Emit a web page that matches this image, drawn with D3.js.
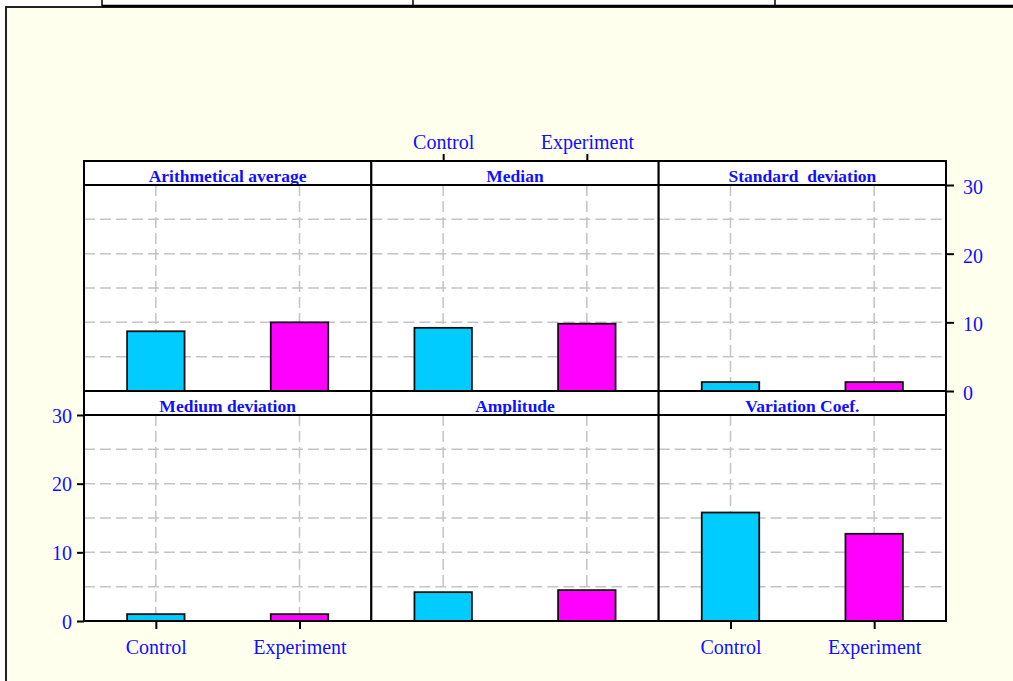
<!DOCTYPE html>
<html>
<head>
<meta charset="utf-8">
<script src="https://cdn.jsdelivr.net/npm/d3@7"></script>
<style>
  body { margin: 0; background: #fff; }
  svg { display: block; }
</style>
</head>
<body>
<div id="chart"></div>
<script>
// statistics shown, one per panel (top row first)
var statNames = ["Arithmetical average", "Median", "Standard  deviation",
                 "Medium deviation", "Amplitude", "Variation Coef."];
var groups = ["Control", "Experiment"];
var controlValues = [8.7, 9.2, 1.3, 1.0, 4.2, 15.8];
var experimentValues = [10.0, 9.8, 1.3, 1.0, 4.5, 12.7];
var yTicks = [0, 10, 20, 30];
var gridTicks = [5, 10, 15, 20, 25];

var W = 1013, H = 681;
var blue = "#1010ff";
var colors = {"Control": "#00ccff", "Experiment": "#ff00ff"};

var svg = d3.select("#chart").append("svg")
  .attr("width", W)
  .attr("height", H);

// frame bits at the top, from the device above
svg.append("rect")
  .attr("x", 6).attr("y", 7)
  .attr("width", W).attr("height", H)
  .attr("fill", "#ffffee")
  .attr("stroke", "#222")
  .attr("stroke-width", 2);
svg.append("line")
  .attr("x1", 102).attr("x2", W).attr("y1", 6).attr("y2", 6)
  .attr("stroke", "#000").attr("stroke-width", 2.5);
[102, 413, 775].forEach(function(x) {
  svg.append("line")
    .attr("x1", x).attr("x2", x).attr("y1", 0).attr("y2", 6)
    .attr("stroke", "#000").attr("stroke-width", 1.5);
});

var margin = {left: 84, right: 67, top: 161, bottom: 60},
    stripH = 24,
    nCol = 3, nRow = 2,
    colW = (W - margin.left - margin.right) / nCol,
    rowH = (H - margin.top - margin.bottom) / nRow,
    panelH = rowH - stripH;

var x = d3.scalePoint()
  .domain(groups)
  .range([0, colW])
  .padding(0.5);

var y = d3.scaleLinear()
  .domain([0, 30])
  .range([panelH, 0]);

var barW = x.step() * 0.4;

var data = statNames.map(function(name, i) {
  return {
    name: name,
    values: [
      {group: "Control", value: controlValues[i]},
      {group: "Experiment", value: experimentValues[i]}
    ]
  };
});

var panels = svg.selectAll("g.panel")
  .data(data)
  .enter().append("g")
  .attr("class", "panel")
  .attr("transform", function(d, i) {
    var c = i % nCol, r = Math.floor(i / nCol);
    return "translate(" + (margin.left + c * colW) + "," + (margin.top + r * rowH) + ")";
  });

panels.each(function(d, i) {
  var g = d3.select(this);
  var c = i % nCol, r = Math.floor(i / nCol);

  // strip
  g.append("rect")
    .attr("width", colW).attr("height", stripH)
    .attr("fill", "#fff");
  g.append("text")
    .attr("x", colW / 2)
    .attr("y", stripH - 3)
    .attr("text-anchor", "middle")
    .attr("font-family", "'Liberation Serif', 'Times New Roman', serif")
    .attr("font-weight", "bold")
    .attr("font-size", 17.5)
    .style("white-space", "pre")
    .attr("fill", blue)
    .text(d.name);

  var p = g.append("g").attr("transform", "translate(0," + stripH + ")");

  p.append("rect")
    .attr("width", colW).attr("height", panelH)
    .attr("fill", "#fff");

  // dashed grid
  p.selectAll("line.hgrid")
    .data(gridTicks)
    .enter().append("line")
    .attr("x1", 0).attr("x2", colW)
    .attr("y1", function(v) { return y(v); })
    .attr("y2", function(v) { return y(v); })
    .attr("stroke", "#c4c4c4")
    .attr("stroke-width", 1.5)
    .attr("stroke-dasharray", "11,5");
  p.selectAll("line.vgrid")
    .data(groups)
    .enter().append("line")
    .attr("x1", function(k) { return x(k); })
    .attr("x2", function(k) { return x(k); })
    .attr("y1", 0).attr("y2", panelH)
    .attr("stroke", "#c4c4c4")
    .attr("stroke-width", 1.5)
    .attr("stroke-dasharray", "11,5");

  // bars
  p.selectAll("rect.bar")
    .data(d.values)
    .enter().append("rect")
    .attr("class", "bar")
    .attr("x", function(v) { return x(v.group) - barW / 2; })
    .attr("y", function(v) { return y(v.value); })
    .attr("width", barW)
    .attr("height", function(v) { return panelH - y(v.value); })
    .attr("fill", function(v) { return colors[v.group]; })
    .attr("stroke", "#111")
    .attr("stroke-width", 1.8);

  // borders
  g.append("rect")
    .attr("width", colW).attr("height", rowH)
    .attr("fill", "none")
    .attr("stroke", "#000")
    .attr("stroke-width", 2);
  g.append("line")
    .attr("x1", 0).attr("x2", colW)
    .attr("y1", stripH).attr("y2", stripH)
    .attr("stroke", "#000")
    .attr("stroke-width", 2);

  // alternating axes like lattice
  var axes = [];
  if (r === 0 && c === 1) {
    axes.push(p.append("g").attr("transform", "translate(0," + (-stripH) + ")")
      .call(d3.axisTop(x).tickSize(7).tickPadding(5)));
  }
  if (r === 1 && c !== 1) {
    axes.push(p.append("g").attr("transform", "translate(0," + panelH + ")")
      .call(d3.axisBottom(x).tickSize(8).tickPadding(11)));
  }
  if (r === 0 && c === nCol - 1) {
    var ra = p.append("g").attr("transform", "translate(" + colW + ",0)")
      .call(d3.axisRight(y).tickValues(yTicks).tickSize(8).tickPadding(9));
    ra.selectAll("text").attr("dy", "0.42em");
    axes.push(ra);
  }
  if (r === 1 && c === 0) {
    var la = p.append("g")
      .call(d3.axisLeft(y).tickValues(yTicks).tickSize(7).tickPadding(5));
    la.selectAll("text").attr("dy", "0.36em");
    axes.push(la);
  }
  axes.forEach(function(a) {
    a.select(".domain").remove();
    a.selectAll("line").attr("stroke", "#000").attr("stroke-width", 2);
    a.selectAll("text")
      .attr("fill", blue)
      .attr("font-family", "'Liberation Serif', 'Times New Roman', serif")
      .attr("font-size", 20);
  });
});
</script>
</body>
</html>
